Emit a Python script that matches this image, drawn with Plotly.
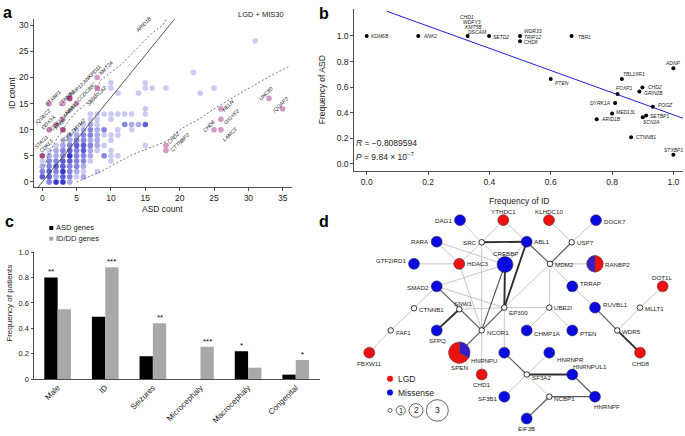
import plotly.graph_objects as go

W, H = 685, 436
FONT = "Liberation Sans, Arial, Helvetica, sans-serif"


def fx(p):
    return p / W


def fy(p):
    return 1 - p / H


# ---------------- Panel a data (ASD count vs ID count) ----------------
a_asd = [1, 2, 3, 4,
         0, 1, 2, 3, 4, 5, 6,
         0, 1, 2, 3, 4, 5, 6, 8,
         0, 1, 2, 3, 4, 5, 6,
         0, 1, 2, 3, 4, 5, 6, 7, 10,
         1, 2, 3, 4, 5, 6, 7, 9, 10, 11,
         1, 2, 3, 4, 5, 6, 7, 8, 10,
         2, 3, 4, 5, 6, 7, 8, 9, 15,
         3, 4, 5, 6, 7, 8, 10,
         4, 5, 6, 7, 8, 9, 10, 11,
         5, 6, 7, 8, 9, 11, 13,
         6, 7, 8, 12, 13, 14, 15,
         7, 8, 10,
         7, 8, 9, 10, 11, 12, 13, 15,
         15,
         11, 14, 23,
         10, 15, 16, 18, 25,
         10, 15,
         22,
         31]
a_id = [0] * 4 + [1] * 7 + [2] * 8 + [3] * 7 + [4] * 9 + [5] * 10 + [6] * 9 + [7] * 9 + \
       [8] * 7 + [9] * 8 + [10] * 7 + [11] * 7 + [12] * 3 + [13] * 8 + [14] * 1 + [17] * 3 + \
       [18] * 5 + [19] * 2 + [21] * 1 + [27] * 1
a_ngenes = [3, 5, 5, 2,
            4, 4, 2, 4, 3, 1, 2,
            3, 4, 3, 5, 3, 2, 1, 1,
            2, 3, 4, 4, 3, 3, 2,
            1, 3, 3, 4, 4, 3, 3, 1, 1,
            2, 2, 3, 5, 3, 3, 2, 3, 1, 1,
            1, 2, 3, 4, 3, 4, 2, 1, 1,
            1, 2, 3, 4, 4, 3, 2, 1, 1,
            1, 2, 3, 3, 2, 2, 1,
            2, 2, 3, 3, 2, 1, 1, 1,
            1, 2, 3, 2, 3, 1, 1,
            1, 2, 1, 3, 2, 2, 4,
            1, 1, 1,
            1, 1, 1, 1, 1, 1, 1, 1,
            1,
            1, 1, 1,
            1, 1, 1, 1, 1,
            1, 1,
            1,
            1]

# significant (labelled) genes
sig_asd = [0, 1, 1, 2, 3, 3, 3, 4, 5, 8, 8, 16, 18, 18, 25, 26, 26, 26, 33, 35]
sig_id = [5, 10, 15, 11, 10, 12, 15, 16, 15, 18, 20, 32, 7, 6, 10, 10, 12, 14, 16, 14]
sig_ngenes = [3, 2, 1, 1, 3, 1, 1, 3, 1, 2, 1, 1, 1, 1, 1, 1, 1, 1, 1, 1]

ratio_slope = 1.62
ratio_x = [-0.7, 20.4]
upper_x = [0.3, 1.0, 2.0, 3.0, 4.0, 5.0, 6.0, 7.5, 8.5, 10.0, 11.5, 13.0, 14.5, 16.0, 17.5, 19.0]
upper_y = [3.0, 5.5, 8.0, 10.0, 12.0, 13.5, 14.5, 16.5, 19.5, 21.0, 22.5, 24.5, 26.5, 28.5, 30.0, 33.0]
lower_x = [5.0, 8.4, 13.2, 18.1, 20.0, 23.0, 25.0, 28.8, 33.2, 36.0]
lower_y = [0.0, 1.9, 5.3, 7.8, 10.0, 12.2, 14.0, 17.0, 20.3, 22.2]

# ---------------- Panel b data ----------------
b_genes = ["KDM6B", "ANK2", "CHD1", "SETD2", "TRIP12", "CHD8", "TBR1", "PTEN", "TBL1XR1",
           "FOXP1", "CHD2", "GRIN2B", "ADNP", "DYRK1A", "POGZ", "MED13L", "SETBP1", "SCN2A",
           "ARID1B", "CTNNB1", "STXBP1"]
b_freq_id = [0.0, 0.168, 0.329, 0.399, 0.50, 0.50, 0.668, 0.60, 0.832,
             0.818, 0.899, 0.889, 1.0, 0.81, 0.933, 0.80, 0.911, 0.90,
             0.75, 0.862, 1.0]
b_freq_asd = [1.0, 1.0, 1.0, 1.0, 1.0, 0.959, 1.0, 0.663, 0.663,
              0.546, 0.597, 0.566, 0.747, 0.477, 0.446, 0.395, 0.378, 0.365,
              0.35, 0.209, 0.071]
fit_intercept = 1.250
fit_slope = -0.866
fit_x = [0.065, 1.032]
r_text = "−0.8089594"

# ---------------- Panel c data ----------------
c_cats = ["Male", "ID", "Seizures", "Microcephaly", "Macrocephaly", "Congenital"]
c_asd = [0.80, 0.49, 0.18, 0.0, 0.22, 0.035]
c_iddd = [0.55, 0.88, 0.44, 0.255, 0.09, 0.15]
c_asd_sig = ["**", "", "", "", "*", ""]
c_iddd_sig = ["", "***", "**", "***", "", "*"]

# ---------------- Panel d data (network) ----------------
d_nodes = ["YTHDC1", "KLHDC10", "DAG1", "DOCK7", "RARA", "SRC", "ABL1", "USP7", "CREBBP",
           "HDAC3", "GTF2IRD1", "MDM2", "RANBP2", "SMAD2", "TRRAP", "DOT1L", "SNW1", "EP300",
           "UBE2I", "CTNNB1", "RUVBL1", "MLLT1", "FAF1", "SFPQ", "NCOR1", "CHMP1A", "PTEN",
           "WDR5", "FBXW11", "SPEN", "HNRNPU", "HNRNPR", "CHD8", "CHD1", "SF3A2", "HNRNPUL1",
           "SF3B1", "NCBP1", "HNRNPF", "EIF3B"]
d_x = [503.3, 549.0, 460.0, 596.0, 436.7, 481.7, 526.7, 571.7, 505.0,
       459.3, 414.0, 550.0, 595.0, 436.7, 572.3, 662.7, 459.3, 504.3,
       549.3, 414.0, 595.0, 640.0, 390.7, 436.7, 481.7, 526.7, 572.3,
       617.3, 369.3, 459.3, 504.3, 549.3, 640.0, 481.7, 526.7, 572.3,
       504.3, 549.3, 595.0, 526.7]
d_y = [220.7, 220.7, 220.7, 220.7, 242.7, 243.3, 242.7, 243.3, 266.0,
       265.3, 265.3, 265.3, 265.3, 288.3, 288.3, 288.3, 311.7, 310.0,
       310.0, 310.7, 310.0, 310.0, 333.3, 333.3, 333.3, 333.3, 333.3,
       333.3, 356.0, 356.0, 356.0, 356.0, 356.0, 378.3, 378.3, 378.3,
       401.0, 401.0, 401.0, 423.3]
# mutation type: L = LGD, M = missense, N = none (interactor), B = both
d_type = ["L", "L", "M", "M", "M", "N", "M", "N", "M",
          "L", "M", "N", "B", "M", "M", "L", "N", "N",
          "N", "N", "M", "N", "N", "M", "N", "M", "M",
          "N", "L", "B", "M", "M", "L", "L", "N", "M",
          "M", "N", "M", "M"]
d_count = [1, 1, 1, 1, 1, 0, 1, 0, 2,
           1, 1, 0, 2, 1, 1, 1, 0, 0,
           0, 0, 1, 0, 0, 1, 0, 1, 1,
           0, 1, 3, 1, 1, 1, 1, 0, 1,
           1, 0, 1, 1]
d_lgd = {"RANBP2": 1, "SPEN": 2}
d_mis = {"RANBP2": 1, "SPEN": 1}
d_edges = [("DAG1", "SRC", 1), ("YTHDC1", "SRC", 1), ("YTHDC1", "ABL1", 1), ("SRC", "ABL1", 3),
           ("KLHDC10", "USP7", 1), ("DOCK7", "USP7", 1), ("USP7", "MDM2", 2), ("ABL1", "MDM2", 2),
           ("ABL1", "EP300", 3), ("ABL1", "CREBBP", 1), ("RARA", "HDAC3", 1), ("RARA", "CREBBP", 1),
           ("GTF2IRD1", "HDAC3", 1), ("SRC", "HDAC3", 1), ("SRC", "CREBBP", 1), ("SRC", "NCOR1", 1),
           ("HDAC3", "NCOR1", 1), ("SMAD2", "CREBBP", 1), ("SMAD2", "EP300", 1), ("SMAD2", "NCOR1", 2),
           ("SMAD2", "CTNNB1", 1), ("SNW1", "SFPQ", 3), ("SNW1", "NCOR1", 1), ("SNW1", "EP300", 1),
           ("CREBBP", "EP300", 3), ("CREBBP", "NCOR1", 2), ("EP300", "NCOR1", 2), ("EP300", "MDM2", 1),
           ("EP300", "UBE2I", 1), ("EP300", "HNRNPU", 1), ("MDM2", "UBE2I", 1), ("MDM2", "RANBP2", 1),
           ("MDM2", "TRRAP", 1), ("UBE2I", "CHMP1A", 1), ("UBE2I", "PTEN", 1), ("CTNNB1", "FAF1", 1),
           ("FAF1", "FBXW11", 1), ("NCOR1", "SPEN", 2), ("NCOR1", "CHD1", 1), ("TRRAP", "RUVBL1", 1),
           ("RUVBL1", "WDR5", 2), ("WDR5", "CHD8", 3), ("WDR5", "MLLT1", 1), ("MLLT1", "DOT1L", 1),
           ("HNRNPU", "SF3A2", 2), ("SF3A2", "HNRNPR", 1), ("SF3A2", "HNRNPUL1", 3), ("SF3A2", "SF3B1", 1),
           ("SF3A2", "NCBP1", 1), ("NCBP1", "HNRNPF", 2), ("HNRNPUL1", "HNRNPF", 2), ("NCBP1", "EIF3B", 2)]

# ====================================================================
fig = go.Figure()

# ---------- Panel a ----------
blue_scale = {1: "#cacaf2", 2: "#a9a9ea", 3: "#8484df", 4: "#5d5dd6", 5: "#3737cc"}
pink_scale = {1: "#d49ac3", 2: "#c479ab", 3: "#a9447f"}
fig.add_trace(go.Scatter(x=a_asd, y=a_id, mode="markers", xaxis="x", yaxis="y",
                         marker=dict(size=5.6, opacity=1, color=[blue_scale[n] for n in a_ngenes],
                                     line=dict(width=0)),
                         cliponaxis=False, showlegend=False, hoverinfo="skip"))
fig.add_trace(go.Scatter(x=ratio_x, y=[ratio_slope * v for v in ratio_x], mode="lines",
                         xaxis="x", yaxis="y", line=dict(color="#444", width=0.9),
                         cliponaxis=False, showlegend=False, hoverinfo="skip"))
for xs, ys in ((upper_x, upper_y), (lower_x, lower_y)):
    fig.add_trace(go.Scatter(x=xs, y=ys, mode="lines", xaxis="x", yaxis="y",
                             line=dict(color="#555", width=0.8, dash="2px,2px"),
                             cliponaxis=False, showlegend=False, hoverinfo="skip"))
fig.add_trace(go.Scatter(x=sig_asd, y=sig_id, mode="markers", xaxis="x", yaxis="y",
                         marker=dict(size=5.6, opacity=1, color=[pink_scale[n] for n in sig_ngenes],
                                     line=dict(width=0)),
                         cliponaxis=False, showlegend=False, hoverinfo="skip"))

# ---------- Panel b ----------
fig.add_trace(go.Scatter(x=fit_x, y=[fit_intercept + fit_slope * v for v in fit_x], mode="lines",
                         xaxis="x2", yaxis="y2", line=dict(color="#2020d8", width=1),
                         cliponaxis=False, showlegend=False, hoverinfo="skip"))
fig.add_trace(go.Scatter(x=b_freq_id, y=b_freq_asd, mode="markers", xaxis="x2", yaxis="y2",
                         marker=dict(size=4, color="black"), cliponaxis=False,
                         showlegend=False, hoverinfo="skip"))

# ---------- Panel c ----------
fig.add_trace(go.Bar(x=c_cats, y=c_asd, xaxis="x3", yaxis="y3", marker=dict(color="black", line=dict(width=0)),
                     offsetgroup="a", showlegend=False, hoverinfo="skip"))
fig.add_trace(go.Bar(x=c_cats, y=c_iddd, xaxis="x3", yaxis="y3", marker=dict(color="#a8a8a8", line=dict(width=0)),
                     offsetgroup="b", showlegend=False, hoverinfo="skip"))

# ---------- Panel d ----------
pos = {n: (x, y) for n, x, y in zip(d_nodes, d_x, d_y)}
edge_style = {1: ("#b8b8b8", 0.8), 2: ("#5a5a5a", 1.2), 3: ("#2e2e2e", 1.9)}
for w in (1, 2, 3):
    ex, ey = [], []
    for a, b, ww in d_edges:
        if ww == w:
            ex += [pos[a][0], pos[b][0], None]
            ey += [pos[a][1], pos[b][1], None]
    fig.add_trace(go.Scatter(x=ex, y=ey, mode="lines", xaxis="x4", yaxis="y4",
                             line=dict(color=edge_style[w][0], width=edge_style[w][1]),
                             showlegend=False, hoverinfo="skip"))

type_color = {"L": "#ee1111", "M": "#0a0ade", "N": "white", "B": "rgba(0,0,0,0)"}
size_of = {0: 5.5, 1: 11, 2: 16, 3: 21}
fig.add_trace(go.Scatter(
    x=d_x, y=d_y, mode="markers", xaxis="x4", yaxis="y4",
    marker=dict(size=[size_of[c] for c in d_count], opacity=1, color=[type_color[t] for t in d_type],
                line=dict(width=[0.8 if t == "N" else (0 if t == "B" else 0.5) for t in d_type],
                          color=["black" if t == "N" else "#333" for t in d_type])),
    showlegend=False, hoverinfo="skip"))

# pie nodes (LGD + missense)
for name in ("RANBP2", "SPEN"):
    cx, cy = pos[name]
    r = size_of[d_count[d_nodes.index(name)]] / 2 + 0.5
    fig.add_trace(go.Pie(values=[d_mis[name], d_lgd[name]], labels=["Missense", "LGD"],
                         marker=dict(colors=["#3a1cc4", "#ee1111"], line=dict(width=0.5, color="#444")),
                         sort=False, direction="counterclockwise", rotation=0 if name == "SPEN" else 180,
                         textinfo="none", hoverinfo="skip", showlegend=False,
                         domain=dict(x=[fx(cx - r), fx(cx + r)], y=[fy(cy + r), fy(cy - r)])))

# ---------------- Layout ----------------
tick_font = dict(size=8.5, color="#222", family=FONT)
axis_common = dict(showline=True, linecolor="#222", linewidth=0.8, ticks="outside", ticklen=3,
                   tickwidth=0.8, tickcolor="#222", showgrid=False, zeroline=False, tickfont=tick_font,
                   fixedrange=True)

layout = dict(
    width=W, height=H, margin=dict(l=0, r=0, t=0, b=0),
    paper_bgcolor="white", plot_bgcolor="rgba(0,0,0,0)",
    font=dict(family=FONT, color="#222"),
    barmode="group", bargap=0.44, bargroupgap=0,
    xaxis=dict(domain=[fx(34), fx(292)], range=[-1.208, 36.35], anchor="y",
               tickvals=[0, 5, 10, 15, 20, 25, 30, 35], **axis_common),
    yaxis=dict(domain=[fy(187.3), fy(15)], range=[-1.05, 31.26], anchor="x",
               tickvals=[0, 5, 10, 15, 20, 25, 30], **axis_common),
    xaxis2=dict(domain=[fx(354), fx(683)], range=[-0.0414, 1.0313], anchor="y2",
                tickvals=[0, 0.2, 0.4, 0.6, 0.8, 1.0], tickformat=".1f", **axis_common),
    yaxis2=dict(domain=[fy(170.7), fy(5)], range=[-0.0566, 1.2114], anchor="x2",
                tickvals=[0, 0.2, 0.4, 0.6, 0.8, 1.0], tickformat=".1f", **axis_common),
    xaxis3=dict(domain=[fx(34.3), fx(320)], range=[-0.49, 5.51], anchor="y3", type="category",
                tickangle=-45, showline=True, linecolor="#222", linewidth=0.8, ticks="",
                showgrid=False, zeroline=False, tickfont=dict(size=8, color="#222", family=FONT),
                fixedrange=True),
    yaxis3=dict(domain=[fy(383), fy(253.3)], range=[0, 1.0], anchor="x3",
                tickvals=[0, 0.2, 0.4, 0.6, 0.8, 1.0], ticktext=["0", "0.2", "0.4", "0.6", "0.8", "1.0"],
                **{**axis_common, "tickfont": dict(size=7.5, color="#222", family=FONT)}),
    xaxis4=dict(domain=[0, 1], range=[0, W], anchor="y4", visible=False, fixedrange=True),
    yaxis4=dict(domain=[0, 1], range=[H, 0], anchor="x4", visible=False, fixedrange=True),
)

ann = []


def text_at(x, y, s, size=8.5, xanchor="center", yanchor="middle", angle=0, bold=False, italic=False,
            color="#222"):
    ann.append(dict(x=fx(x), y=fy(y), xref="paper", yref="paper", text=s, showarrow=False,
                    xanchor=xanchor, yanchor=yanchor, textangle=angle, borderpad=0,
                    font=dict(size=size, color=color, family=FONT,
                              weight="bold" if bold else "normal",
                              style="italic" if italic else "normal")))


# panel letters
text_at(7, 9, "a", size=16, bold=True, color="black")
text_at(324, 9.5, "b", size=16, bold=True, color="black")
text_at(9, 222, "c", size=16, bold=True, color="black")
text_at(324, 222, "d", size=16, bold=True, color="black")

# panel a texts
text_at(261, 11, "LGD + MIS30", size=7.5)
text_at(12, 91, "ID count", size=8.5, angle=-90)
text_at(162, 209, "ASD count", size=8.5)
a_labels = [("ARID1B", 142.5, 21), ("KMT2A", 105.5, 65), ("TRIP12,ANKRD11", 85, 79),
            ("CCDC88C", 86, 90), ("SMARCA2", 96, 94), ("STXBP1", 53, 96), ("CTNNB1", 66, 96),
            ("NAA15", 71, 106), ("IQSEC2", 42, 115), ("DDX3X", 48, 120), ("CDK13,4A4BP", 63, 115),
            ("PHIP", 60, 123), ("TCF4,ZMYM2", 73, 130), ("STAG1", 41, 141), ("CDKL5", 46, 145),
            ("CHD2", 173, 136.5), ("CTTNBP2", 180, 141), ("RELN", 227.5, 104), ("GIGYF2", 231, 115.5),
            ("CHD8", 209, 125), ("LAMC3", 230, 133), ("UNC80", 265, 91.5), ("IQGAP3", 280, 103.5)]
for s, x, y in a_labels:
    text_at(x, y, s, size=5.2, angle=-45, italic=True)

# panel b texts
text_at(322, 88, "Frequency of ASD", size=8.5, angle=-90)
text_at(518.5, 201.2, "Frequency of ID", size=8.5)
b_labels = [("KDM6B", 370, 32.7, "left"), ("ANK2", 421.7, 32.7, "left"), ("CHD1", 459.3, 13.6, "left"),
            ("WDFY3", 461.7, 18.5, "left"), ("KMT5B", 464.3, 23.4, "left"), ("DSCAM", 467.3, 28.5, "left"),
            ("SETD2", 491.7, 33.3, "left"), ("WDR33", 522.7, 28, "left"), ("TRIP12", 523.3, 33.3, "left"),
            ("CHD8", 523.3, 38.7, "left"), ("TBR1", 576.7, 33.3, "left"), ("PTEN", 553.5, 80.5, "left"),
            ("TBL1XR1", 621.7, 71, "left"), ("FOXP1", 633.5, 86, "right"), ("CHD2", 646.7, 85, "left"),
            ("GRIN2B", 642.5, 91, "left"), ("ADNP", 682, 60.7, "right"), ("DYRK1A", 612, 101, "right"),
            ("POGZ", 656.7, 103.3, "left"), ("MED13L", 615, 110, "left"), ("SETBP1", 649, 114, "left"),
            ("SCN2A", 641.7, 120.7, "left"), ("ARID1B", 600, 117.7, "left"), ("CTNNB1", 635, 136, "left"),
            ("STXBP1", 683.5, 149, "right")]
for s, x, y, xa in b_labels:
    text_at(x, y, s, size=5.0, xanchor=xa, italic=True)
text_at(355, 141.7, "<i>R</i> = " + r_text, size=8.5, xanchor="left")
text_at(355, 156, "<i>P</i> = 9.84 × 10<sup>−7</sup>", size=8.5, xanchor="left")

# panel c texts
text_at(10, 306, "Frequency of patients", size=8, angle=-90)
text_at(55, 228.7, "ASD genes", size=7.5, xanchor="left")
text_at(55, 239.7, "ID/DD genes", size=7.5, xanchor="left")
for cat, va, vb, sa, sb in zip(c_cats, c_asd, c_iddd, c_asd_sig, c_iddd_sig):
    for val, star, shift in ((va, sa, -6.7), (vb, sb, 6.7)):
        if star:
            ann.append(dict(x=cat, y=val, xref="x3", yref="y3", text=star, showarrow=False,
                            xanchor="center", yanchor="bottom", xshift=shift, yshift=-1,
                            font=dict(size=8, color="black", family=FONT)))

shapes = [
    dict(type="rect", xref="paper", yref="paper", x0=fx(49.3), x1=fx(53.3), y0=fy(230.7), y1=fy(226.7),
         fillcolor="black", line=dict(width=0)),
    dict(type="rect", xref="paper", yref="paper", x0=fx(49.3), x1=fx(53.3), y0=fy(241.7), y1=fy(237.7),
         fillcolor="#a8a8a8", line=dict(width=0)),
]

# panel d node labels: side (r/l/t/b), extra dx, extra dy (pixels)
d_label_side = {
    "YTHDC1": ("t", 0, 0), "KLHDC10": ("t", 0, 0), "DAG1": ("l", 0, 0), "DOCK7": ("r", 0, 1),
    "RARA": ("l", 0, 0), "SRC": ("l", 0, 0), "ABL1": ("r", 0, 0), "USP7": ("r", 0, 0),
    "CREBBP": ("t", 0, 0), "HDAC3": ("r", 0, 0), "GTF2IRD1": ("l", 0, -3), "MDM2": ("r", 0, 0.7),
    "RANBP2": ("r", 0, 0.7), "SMAD2": ("l", 0, 1), "TRRAP": ("r", 0, -2.5), "DOT1L": ("t", 0, 0),
    "SNW1": ("t", 4, 0), "EP300": ("r", 0, 5), "UBE2I": ("r", 0, 0), "CTNNB1": ("r", 0, 1),
    "RUVBL1": ("r", 0, -2.7), "MLLT1": ("r", 0, 0.7), "FAF1": ("r", 0, 1.7), "SFPQ": ("b", 1, 0),
    "NCOR1": ("r", 0, 1.7), "CHMP1A": ("r", 0, 3.4), "PTEN": ("r", 0, 2.7), "WDR5": ("r", 0, 0.7),
    "FBXW11": ("b", 0, 0), "SPEN": ("b", 0, 0), "HNRNPU": ("l", 0, 8), "HNRNPR": ("r", 0, 7.3),
    "CHD8": ("b", 0, 0), "CHD1": ("b", 0, 0), "SF3A2": ("r", 0, 3.4), "HNRNPUL1": ("r", -7, -8.3),
    "SF3B1": ("l", 0, 2.3), "NCBP1": ("r", 0, 2.3), "HNRNPF": ("r", -9, 9.7), "EIF3B": ("b", 0, 0)}
for n, c in zip(d_nodes, d_count):
    nx, ny = pos[n]
    rad = size_of[c] / 2
    side, ddx, ddy = d_label_side[n]
    if side == "r":
        text_at(nx + rad + 1.2 + ddx, ny + ddy, n, size=6.2, xanchor="left")
    elif side == "l":
        text_at(nx - rad - 1.2 + ddx, ny + ddy, n, size=6.2, xanchor="right")
    elif side == "t":
        text_at(nx + ddx, ny - rad - 3.6 + ddy, n, size=6.2)
    else:
        text_at(nx + ddx, ny + rad + 0.5 + ddy, n, size=6.2, yanchor="top")

# panel d legend
shapes.append(dict(type="circle", xref="paper", yref="paper", x0=fx(387), x1=fx(393), y0=fy(385.7),
                   y1=fy(379.7), fillcolor="#ee1111", line=dict(width=0)))
shapes.append(dict(type="circle", xref="paper", yref="paper", x0=fx(387), x1=fx(393), y0=fy(399.7),
                   y1=fy(393.7), fillcolor="#0a0ade", line=dict(width=0)))
text_at(396.5, 382.7, "LGD", size=8.5, xanchor="left")
text_at(396.5, 396.7, "Missense", size=8.5, xanchor="left")
for cx, r, lab in ((390, 2.0, ""), (400.7, 4.6, "1"), (416, 7.0, "2"), (437.3, 11.0, "3")):
    shapes.append(dict(type="circle", xref="paper", yref="paper", x0=fx(cx - r), x1=fx(cx + r),
                       y0=fy(415 + r), y1=fy(415 - r), fillcolor="white", line=dict(width=0.7, color="#222")))
    if lab:
        text_at(cx, 415, lab, size=7.5 if lab == "1" else 8.5)

layout["annotations"] = ann
layout["shapes"] = shapes
fig.update_layout(**layout)
fig.write_html("out.html", config={"displayModeBar": False, "staticPlot": True},
               post_script="document.body.style.margin='0px';document.body.style.overflow='hidden';")
